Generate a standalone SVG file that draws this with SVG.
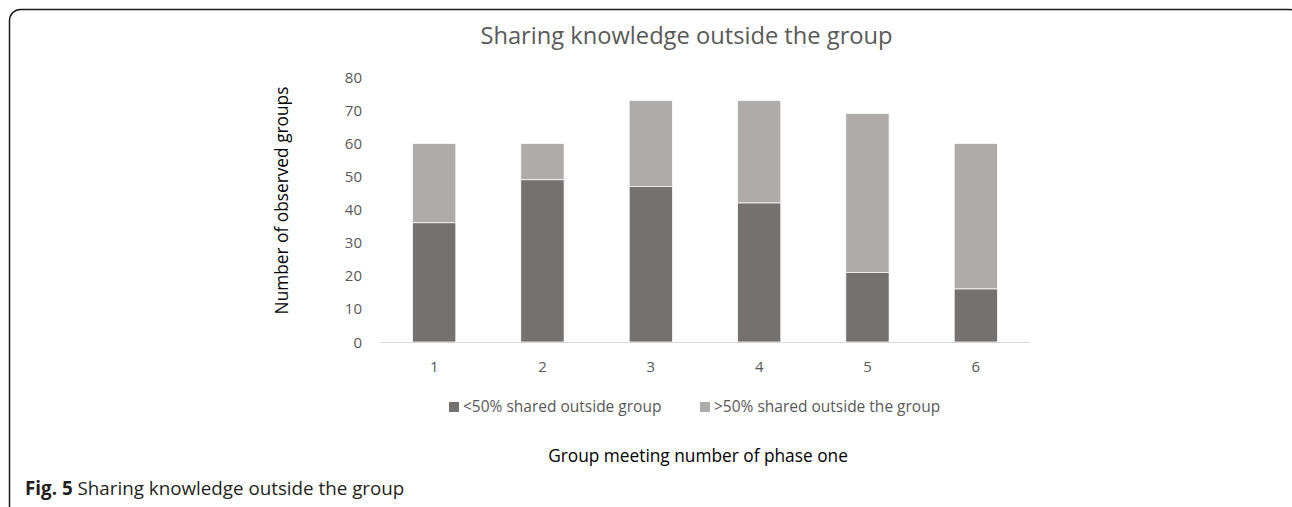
<svg xmlns="http://www.w3.org/2000/svg" width="1292" height="507" viewBox="0 0 1292 507">
<style>
.tick{font-family:"Open Sans","Liberation Sans",sans-serif;font-size:15px;fill:#595959}
.ytick{text-anchor:end}
.xtick{text-anchor:middle}
.title{font-family:"Open Sans","Liberation Sans",sans-serif;font-size:23.7px;fill:#595959;text-anchor:middle}
.axt{font-family:"Open Sans","Liberation Sans",sans-serif;font-size:17.3px;fill:#000;text-anchor:middle}
.leg{font-family:"Open Sans","Liberation Sans",sans-serif;font-size:15.5px;fill:#595959}
.dark{fill:#767171;stroke:#fff;stroke-width:0.75}
.light{fill:#AFABAB;stroke:#fff;stroke-width:0.75}
.cap{font-family:"Open Sans","Liberation Sans",sans-serif;font-size:18.8px;fill:#231f20}
</style>
<rect width="1292" height="507" fill="#fff"/>
<rect id="frame" x="9.5" y="9.5" width="1291" height="540" rx="11" fill="none" stroke="#1a1a1a" stroke-width="1.5"/>
<text class="title" x="686.5" y="44">Sharing knowledge outside the group</text>
<g id="y-axis">
<text class="tick ytick" x="362" y="347.5">0</text>
<text class="tick ytick" x="362" y="314.4">10</text>
<text class="tick ytick" x="362" y="281.3">20</text>
<text class="tick ytick" x="362" y="248.2">30</text>
<text class="tick ytick" x="362" y="215.1">40</text>
<text class="tick ytick" x="362" y="182">50</text>
<text class="tick ytick" x="362" y="148.9">60</text>
<text class="tick ytick" x="362" y="115.8">70</text>
<text class="tick ytick" x="362" y="82.7">80</text>
<text class="axt" transform="translate(288,200.5) rotate(-90)">Number of observed groups</text>
</g>
<g id="bar1"><rect class="light" x="412.5" y="143.4" width="43.3" height="79.4"/><rect class="dark" x="412.5" y="222.8" width="43.3" height="119.2"/></g>
<g id="bar2"><rect class="light" x="520.8" y="143.4" width="43.3" height="36.4"/><rect class="dark" x="520.8" y="179.8" width="43.3" height="162.2"/></g>
<g id="bar3"><rect class="light" x="629.2" y="100.4" width="43.3" height="86"/><rect class="dark" x="629.2" y="186.4" width="43.3" height="155.6"/></g>
<g id="bar4"><rect class="light" x="737.5" y="100.4" width="43.3" height="102.6"/><rect class="dark" x="737.5" y="203" width="43.3" height="139"/></g>
<g id="bar5"><rect class="light" x="845.8" y="113.6" width="43.3" height="158.9"/><rect class="dark" x="845.8" y="272.5" width="43.3" height="69.5"/></g>
<g id="bar6"><rect class="light" x="954.2" y="143.4" width="43.3" height="145.6"/><rect class="dark" x="954.2" y="289" width="43.3" height="53"/></g>
<g id="x-axis">
<line x1="380" y1="342.5" x2="1030" y2="342.5" stroke="#D9D9D9" stroke-width="1"/>
<text class="tick xtick" x="434.2" y="371.5">1</text>
<text class="tick xtick" x="542.5" y="371.5">2</text>
<text class="tick xtick" x="650.8" y="371.5">3</text>
<text class="tick xtick" x="759.2" y="371.5">4</text>
<text class="tick xtick" x="867.5" y="371.5">5</text>
<text class="tick xtick" x="975.8" y="371.5">6</text>
<text class="axt" x="698" y="462">Group meeting number of phase one</text>
</g>
<g id="legend">
<rect x="449" y="402" width="10" height="10" fill="#767171"/>
<text class="leg" x="463" y="411.7">&lt;50% shared outside group</text>
<rect x="700" y="402" width="10" height="10" fill="#AFABAB"/>
<text class="leg" x="714" y="411.7">&gt;50% shared outside the group</text>
</g>
<text id="caption" class="cap" x="25" y="495"><tspan font-weight="bold">Fig. 5</tspan> Sharing knowledge outside the group</text>
</svg>
